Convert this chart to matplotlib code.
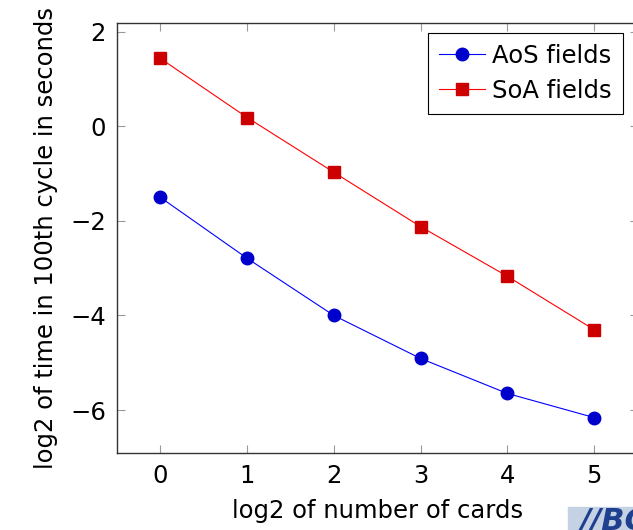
import matplotlib.pyplot as plt
from matplotlib.patches import Rectangle

# log2 of number of cards
cards = [0, 1, 2, 3, 4, 5]
# log2 of time in 100th cycle (seconds)
aos_fields = [-1.50, -2.79, -4.00, -4.91, -5.65, -6.16]
soa_fields = [1.44, 0.19, -0.97, -2.12, -3.17, -4.30]

plt.rcParams['font.family'] = ['DejaVu Sans']
fs = 17.5

fig = plt.figure(figsize=(6.33, 5.3), dpi=100)
# axes extends past the right edge, like the cropped original
ax = fig.add_axes([117 / 633, 77 / 530, 520.5 / 633, 430 / 530])

ax.plot(cards, aos_fields, color='#0000ff', lw=0.8, marker='o', ms=9,
        mfc='#0000cc', mec='#0000cc', label='AoS fields')
ax.plot(cards, soa_fields, color='#ff0000', lw=0.8, marker='s', ms=8.5,
        mfc='#cc0000', mec='#cc0000', label='SoA fields')

ax.set_xlim(-0.5, 5.5)
ax.set_ylim(-6.91, 2.19)
ax.set_xticks(cards)
ax.set_yticks([-6, -4, -2, 0, 2])

for s in ax.spines.values():
    s.set_color('#333333')
    s.set_linewidth(1.0)
ax.tick_params(direction='in', length=6, width=0.8, color='#999999',
               top=True, right=True, labelsize=fs, pad=8)

ax.set_xlabel('log2 of number of cards', fontsize=fs, labelpad=8)
ax.set_ylabel('log2 of time in 100th cycle in seconds', fontsize=fs, labelpad=9)

leg = ax.legend(loc='upper right', bbox_to_anchor=(0.972, 0.977),
                borderaxespad=0, fontsize=fs, fancybox=False, framealpha=1,
                handlelength=1.9, handletextpad=0.3, borderpad=0.45,
                labelspacing=0.45)
leg.get_frame().set_edgecolor('black')
leg.get_frame().set_linewidth(0.8)

# partial logo in the corner
fig.patches.append(Rectangle((568 / 633, 0), 70 / 633, 23 / 530,
                             transform=fig.transFigure, color='#c4d2e4'))
fig.text(580 / 633, -6 / 530, '//BC', color='#1f3f8f', fontsize=22,
         fontweight='bold', style='italic', ha='left', va='bottom')

fig.savefig('out.png', dpi=100)
